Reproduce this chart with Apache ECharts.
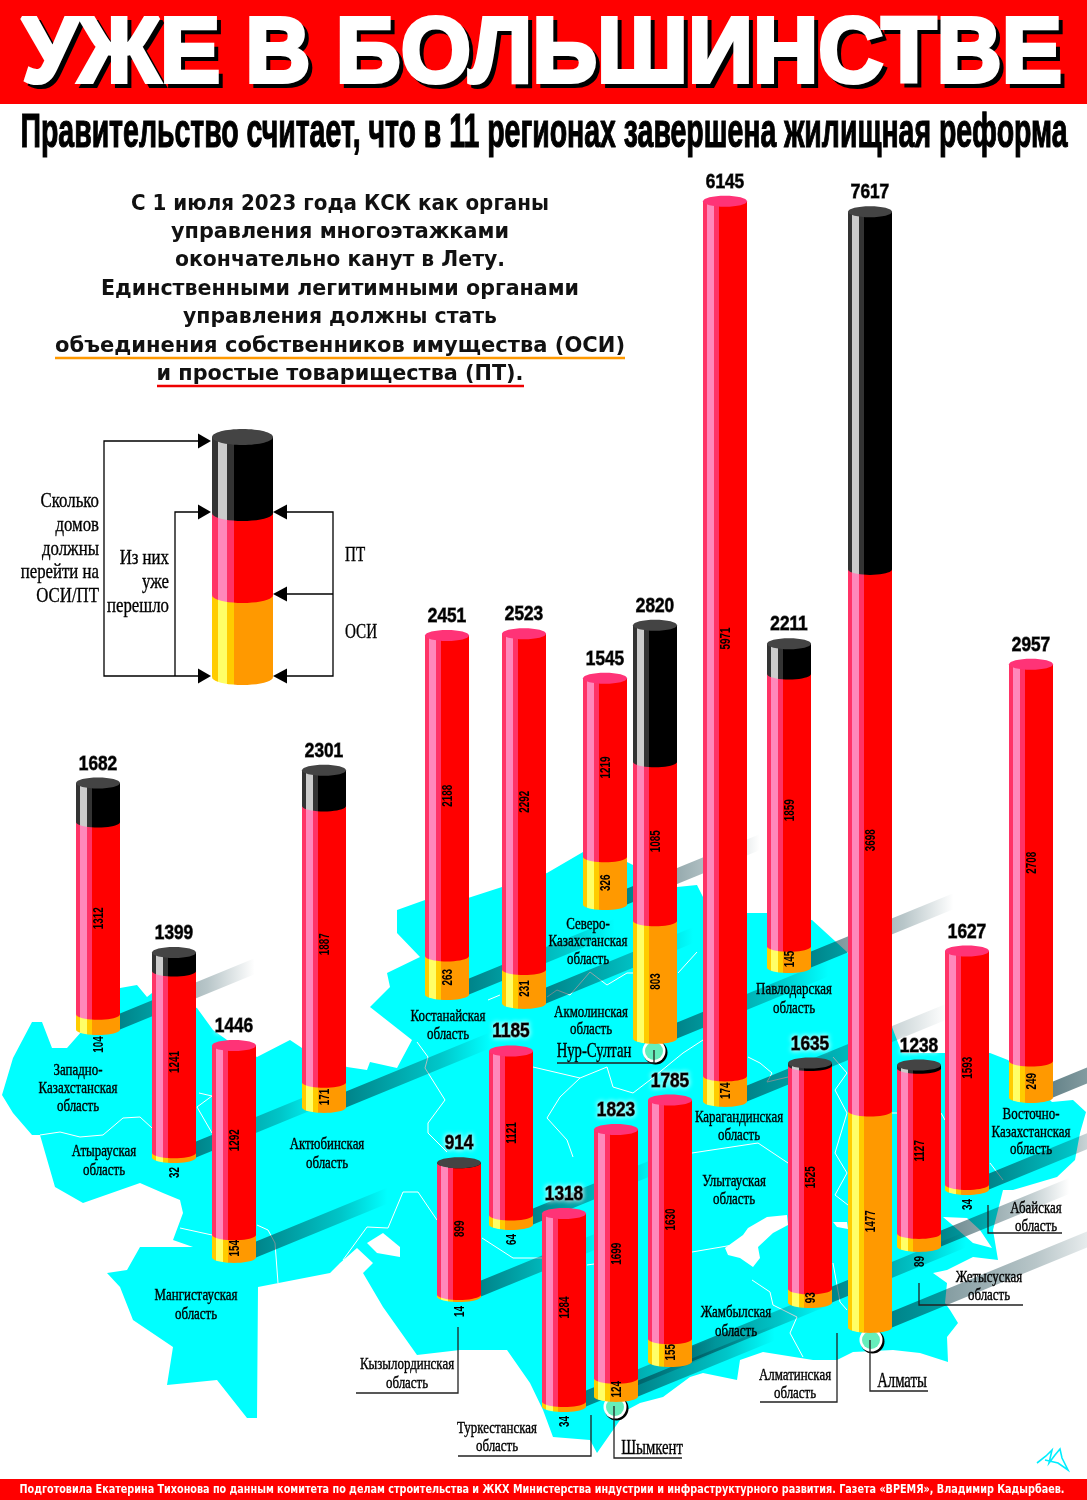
<!DOCTYPE html>
<html><head><meta charset="utf-8">
<style>html,body{margin:0;padding:0;background:#fff}#c{width:1087px;height:1500px}</style>
<script src="https://cdn.jsdelivr.net/npm/echarts@6/dist/echarts.min.js"></script>
</head><body><div id="c"></div>
<script>
// ---------- chart data: houses per region ----------
const totals   = [1682,1399,1446,2301,2451,2523,1545,2820,6145,2211,7617,1627,2957,1185,914,1318,1823,1785,1635,1238];
const ptCounts = [1312,1241,1292,1887,2188,2292,1219,1085,5971,1859,3698,1593,2708,1121,899,1284,1699,1630,1525,1127];
const osiCounts= [104,32,154,171,263,231,326,803,174,145,1477,34,249,64,14,34,124,155,93,89];
// where each region stands on the map: x axis value and floor level (in house units of the y axis)
const mapX     = [98,174,234,324,447,524,605,655,725,789,870,967,1031,511,459,564,616,670,810,919];
const mapFloor = [3212,2338,1656,2680,3451,3390,4065,3151,2721,3635,1178,2120,2748,1881,1389,638,707,945,1348,1731];
const osiLabelUnder = [104,32,14,34,64,89];

const BAR_W = 44, RY = 5.5;
const skins = {
  osi:{base:'#ff9900',mid:'#ffcc00',hi:'#ffff66'},
  pt:{base:'#ff0000',mid:'#ff3366',hi:'#ff88bb'},
  rest:{base:'#000000',mid:'#333333',hi:'#cccccc'}
};
function skin(k){const s=skins[k];return {type:'linear',x:0,y:0,x2:1,y2:0,global:false,colorStops:[
  {offset:0,color:s.mid},{offset:.1,color:s.mid},{offset:.1,color:s.hi},{offset:.24,color:s.hi},
  {offset:.24,color:s.mid},{offset:.36,color:s.mid},{offset:.36,color:s.base},{offset:1,color:s.base}]};}
function segPts(x0,x1,yT,yB,ry){
  const p=[[x0,yT],[x1,yT]],cx=(x0+x1)/2,rx=(x1-x0)/2;
  for(let i=0;i<=20;i++){const a=Math.PI*i/20;p.push([cx+rx*Math.cos(a),yB+ry*Math.sin(a)]);}
  return p;
}
function capEllipse(cx,cy,rx,ry,fill){return {type:'ellipse',shape:{cx,cy,rx,ry},style:{fill}};}

// ---------- decoration: map of Kazakhstan (page pixels) ----------
const mapOutline=[[2,1095],[13,1058],[32,1022],[42,1022],[52,1048],[67,1048],[120,988],[137,985],[147,997],[152,993],[197,1008],[213,1030],[227,1040],[257,1057],[290,1040],[302,1048],[347,1067],[367,1070],[370,1062],[397,1068],[412,1040],[370,1007],[390,987],[387,973],[420,957],[397,933],[397,910],[425,900],[468,898],[502,887],[547,873],[583,852],[627,862],[677,887],[697,885],[703,897],[747,913],[767,913],[812,920],[847,952],[892,1027],[902,1053],[940,1053],[990,1053],[1008,1060],[1052,1102],[1073,1100],[1086,1112],[1080,1133],[1075,1160],[1057,1177],[1013,1190],[1003,1190],[993,1230],[998,1260],[973,1257],[947,1270],[933,1273],[947,1283],[945,1303],[950,1310],[958,1323],[947,1337],[948,1362],[920,1353],[893,1350],[853,1352],[837,1360],[813,1360],[763,1352],[740,1360],[737,1380],[703,1373],[690,1377],[663,1397],[640,1403],[627,1410],[597,1453],[590,1440],[553,1437],[543,1410],[530,1383],[507,1350],[460,1350],[417,1355],[383,1307],[363,1273],[373,1263],[357,1248],[340,1263],[330,1273],[258,1287],[257,1418],[247,1418],[217,1380],[167,1385],[173,1347],[133,1320],[120,1287],[107,1273],[127,1270],[140,1247],[193,1247],[173,1240],[183,1213],[180,1200],[163,1193],[140,1183],[83,1203],[55,1187],[40,1135],[32,1135],[13,1113]];
const mapLakes=[
  [[367,1243],[383,1233],[400,1247],[400,1257],[377,1253]],
  [[725,1248],[743,1235],[748,1228],[767,1217],[787,1215],[788,1225],[773,1233],[758,1247],[760,1258],[753,1267],[740,1258],[728,1255]],
  [[833,1222],[847,1222],[848,1229],[837,1227]],
  [[943,1217],[967,1218],[980,1230],[992,1248],[973,1243],[950,1223]]
];
const regionBorders=[
  [[40,1135],[60,1132],[80,1137],[103,1135],[123,1118],[140,1117],[152,1128]],
  [[199,1093],[212,1096],[197,1107],[212,1133]],
  [[180,1228],[212,1235]],
  [[257,1225],[268,1230],[275,1243],[278,1283]],
  [[343,1260],[367,1227],[388,1228],[403,1192],[418,1192],[437,1220]],
  [[417,1042],[428,1057],[425,1068],[445,1100],[428,1123],[428,1133],[447,1152]],
  [[488,1000],[500,995]],
  [[547,997],[557,990],[570,995],[590,972],[607,985],[627,973],[633,973]],
  [[678,973],[697,952]],
  [[533,1067],[580,1078],[607,1067],[613,1087],[633,1093],[650,1080],[683,1053],[703,1040]],
  [[580,1078],[560,1097],[547,1118],[567,1140],[573,1157]],
  [[482,1238],[513,1258],[542,1258]],
  [[587,1265],[594,1264]],
  [[692,1252],[733,1245]],
  [[752,1280],[770,1292],[773,1305],[797,1317],[790,1333],[803,1357]],
  [[833,1263],[840,1302],[847,1310]],
  [[748,1057],[760,1063],[772,1073],[767,1082],[788,1077]],
  [[692,1153],[758,1143],[788,1163]],
  [[833,1057],[847,1073],[835,1090],[847,1113],[835,1153],[847,1173],[835,1195],[848,1205]],
  [[892,1113],[897,1113]],[[941,1113],[945,1120]],
  [[990,1163],[1003,1180]]
];
const regionLabels=[
  [78,1071,'Западно-'],[78,1089,'Казахстанская'],[78,1107,'область'],
  [104,1152,'Атырауская'],[104,1171,'область'],
  [196,1296,'Мангистауская'],[196,1315,'область'],
  [327,1145,'Актюбинская'],[327,1164,'область'],
  [448,1017,'Костанайская'],[448,1035,'область'],
  [588,925,'Северо-'],[588,942,'Казахстанская'],[588,960,'область'],
  [591,1013,'Акмолинская'],[591,1030,'область'],
  [739,1118,'Карагандинская'],[739,1136,'область'],
  [794,990,'Павлодарская'],[794,1009,'область'],
  [734,1182,'Улытауская'],[734,1200,'область'],
  [736,1313,'Жамбылская'],[736,1332,'область'],
  [1031,1115,'Восточно-'],[1031,1133,'Казахстанская'],[1031,1150,'область'],
  [407,1365,'Кызылординская'],[407,1384,'область'],
  [497,1429,'Туркестанская'],[497,1447,'область'],
  [795,1376,'Алматинская'],[795,1394,'область'],
  [989,1278,'Жетысуская'],[989,1296,'область'],
  [1036,1209,'Абайская'],[1036,1227,'область']
];
const cityLabels=[[594,1051,'Нур-Султан'],[652,1448,'Шымкент'],[902,1381,'Алматы']];
const cityDots=[[654,1051],[615,1407],[871,1340]];
const leaders=[
  [[557,1063],[654,1063],[654,1050]],
  [[614,1406],[614,1458],[682,1458]],
  [[870,1340],[870,1391],[928,1391]],
  [[458,1327],[458,1393],[356,1393]],
  [[591,1415],[591,1456],[458,1456]],
  [[837,1333],[837,1402],[760,1402]],
  [[919,1283],[919,1305],[1023,1305]],
  [[988,1205],[988,1233],[1062,1233]]
];
const introLines=[
  ['С 1 июля 2023 года КСК как органы',205,418],
  ['управления многоэтажками',233,338],
  ['окончательно канут в Лету.',261,330],
  ['Единственными легитимными органами',290,478],
  ['управления должны стать',318,314],
  ['объединения собственников имущества (ОСИ)',347,570],
  ['и простые товарищества (ПТ).',375,367]
];

// ---------- helpers ----------
const mctx=document.createElement('canvas').getContext('2d');
function fit(t,font,w){mctx.font=font;return w/mctx.measureText(t).width;}
function txt(t,x,y,font,o){o=o||{};const al=o.align||'center';
  return {type:'text',x,y,z:o.z||50,silent:true,scaleX:o.sx||1,scaleY:o.sy||1,
    style:Object.assign({text:t,font,fill:o.fill||'#000',align:al,textAlign:al,verticalAlign:'middle',textVerticalAlign:'middle'},o.style||{})};}
function line(pts,color,lw,z){return {type:'polyline',z:z||40,silent:true,shape:{points:pts},style:{fill:null,stroke:color,lineWidth:lw}};}
function tri(p,z){return {type:'polygon',z:z||40,silent:true,shape:{points:p},style:{fill:'#000'}};}

const gfx=[];
// map
gfx.push({type:'polygon',z:-5,silent:true,shape:{points:mapOutline},style:{fill:'#00ffff'}});
mapLakes.forEach(l=>gfx.push({type:'polygon',z:-4,silent:true,shape:{points:l},style:{fill:'#fff'}}));
regionBorders.forEach(b=>gfx.push(line(b,'#ffffff',1,-3)));
// header / footer
gfx.push({type:'rect',z:-5,silent:true,shape:{x:0,y:0,width:1087,height:104},style:{fill:'#ff0000'}});
gfx.push({type:'rect',z:-5,silent:true,shape:{x:0,y:1479,width:1087,height:21},style:{fill:'#ff0000'}});
const tF='bold 92px "Liberation Sans"',tT='УЖЕ В БОЛЬШИНСТВЕ';
gfx.push(txt(tT,546,61,tF,{z:50,sx:fit(tT,tF,1040),fill:'#000',style:{stroke:'#000',lineWidth:4}}));
gfx.push(txt(tT,542,57,tF,{z:51,sx:fit(tT,tF,1040),fill:'#fff',style:{stroke:'#fff',lineWidth:4}}));
const sF='bold 49px "Liberation Sans"',sT='Правительство считает, что в 11 регионах завершена жилищная реформа';
gfx.push(txt(sT,544,133,sF,{sx:fit(sT,sF,1047),style:{stroke:'#000',lineWidth:1.2}}));
const fF='bold 12px "DejaVu Sans"',fT='Подготовила Екатерина Тихонова по данным комитета по делам строительства и ЖКХ Министерства индустрии и инфраструктурного развития. Газета «ВРЕМЯ», Владимир Кадырбаев.';
gfx.push(txt(fT,542,1490,fF,{sx:fit(fT,fF,1045),fill:'#fff'}));
// intro
const iF='bold 21px "DejaVu Sans"';
introLines.forEach(l=>gfx.push(txt(l[0],340,l[1],iF,{sx:fit(l[0],iF,l[2]),fill:'#111'})));
gfx.push(line([[55,358],[625,358]],'#ff9900',2.5));
gfx.push(line([[157,386],[524,386]],'#ee0000',2.5));
// legend
const lg=[];
[['osi',594,677],['pt',513,595],['rest',437,513]].forEach(s=>{
  lg.push({type:'polygon',z:30,silent:true,shape:{points:segPts(212,273,s[1],s[2],8)},style:{fill:skin(s[0])}});
});
lg.push({type:'ellipse',z:31,silent:true,shape:{cx:242.5,cy:437,rx:30.5,ry:8},style:{fill:'#444'}});
gfx.push(...lg);
gfx.push(line([[204,441],[104,441],[104,676],[204,676]],'#000',1.3));
gfx.push(line([[204,512],[175,512],[175,676]],'#000',1.3));
gfx.push(line([[282,512],[333,512],[333,676],[282,676]],'#000',1.3));
gfx.push(line([[282,594],[333,594]],'#000',1.3));
[441,512,676].forEach(y=>gfx.push(tri([[211,y],[198,y-7.5],[198,y+7.5]],41)));
[512,594,676].forEach(y=>gfx.push(tri([[273,y],[287,y-7.5],[287,y+7.5]],41)));
const lF='21px "Liberation Serif"',lS={stroke:'#000',lineWidth:.35};
[['Сколько',501],['домов',525],['должны',549],['перейти на',572],['ОСИ/ПТ',596]].forEach(l=>gfx.push(txt(l[0],99,l[1],lF,{align:'right',sx:.8,style:lS})));
[['Из них',558],['уже',582],['перешло',606]].forEach(l=>gfx.push(txt(l[0],169,l[1],lF,{align:'right',sx:.8,style:lS})));
gfx.push(txt('ПТ',345,555,lF,{align:'left',sx:.72,style:lS}));
gfx.push(txt('ОСИ',345,632,lF,{align:'left',sx:.72,style:lS}));
// labels, leaders
const rF='17px "Liberation Serif"';
regionLabels.forEach(l=>gfx.push(txt(l[2],l[0],l[1],rF,{sx:.76,z:60,style:{stroke:'#000',lineWidth:.4}})));
const cF='21px "Liberation Serif"';
cityLabels.forEach(l=>gfx.push(txt(l[2],l[0],l[1],cF,{sx:.7,z:60,style:{stroke:'#000',lineWidth:.4}})));
leaders.forEach(p=>gfx.push(line(p,'#222',1.3,61)));
cityDots.forEach(d=>{
  gfx.push({type:'circle',z:1,silent:true,shape:{cx:d[0]+1.5,cy:d[1]+1.5,r:12},style:{fill:'#000'}});
  gfx.push({type:'circle',z:1,silent:true,shape:{cx:d[0],cy:d[1],r:11.5},style:{fill:'#fff'}});
  gfx.push({type:'circle',z:1,silent:true,shape:{cx:d[0],cy:d[1],r:9},style:{fill:'#66eebb'}});
});
// signature
gfx.push(line([[1037,1463],[1046,1456],[1052,1450],[1049,1463],[1055,1455],[1060,1449],[1062,1458],[1068,1470],[1058,1463],[1045,1460]],'#00eeff',1.6));

// ---------- series data, far regions first ----------
const rows=totals.map((t,i)=>[mapX[i],mapFloor[i],t,ptCounts[i],osiCounts[i]]).sort((a,b)=>b[1]-a[1]);

function renderShadow(p,api){
  const x=api.value(0),f=api.value(1),t=api.value(2);
  const base=api.coord([x,f]),top=api.coord([x,f+t]),w=api.size([BAR_W,0])[0];
  const L=110+.1*(base[1]-top[1]),X=base[0]+w/2,Y=base[1],T=16,s=.41;
  return {type:'polygon',shape:{points:[[X,Y],[X+L,Y-s*L],[X+L,Y-s*L-T],[X,Y-T]]},
    style:{fill:{type:'linear',x:0,y:0,x2:1,y2:0,global:false,colorStops:[
      {offset:0,color:'rgba(0,50,60,.6)'},{offset:.65,color:'rgba(0,50,60,.28)'},{offset:1,color:'rgba(0,50,60,0)'}]}},silent:true};
}
function renderBar(p,api){
  const x=api.value(0),f=api.value(1),t=api.value(2),pt=api.value(3),osi=api.value(4);
  const w=api.size([BAR_W,0])[0],cx=api.coord([x,0])[0],x0=cx-w/2,x1=cx+w/2;
  const y0=api.coord([x,f])[1],y1=api.coord([x,f+osi])[1],y2=api.coord([x,f+osi+pt])[1],y3=api.coord([x,f+t])[1];
  const ch=[];
  const seg=(a,b,k)=>ch.push({type:'polygon',shape:{points:segPts(x0,x1,a,b,RY)},style:{fill:skin(k)}});
  seg(y1,y0,'osi');seg(y2,y1,'pt');
  if(t>pt+osi) seg(y3,y2,'rest');
  ch.push(capEllipse(cx,y3,w/2,RY,t>pt+osi?'#444444':'#ff3377'));
  const vt=(v,yy)=>({type:'text',x:cx+1,y:yy,rotation:Math.PI/2,scaleX:.66,
    style:{text:String(v),font:'bold 15px "Liberation Sans"',fill:'#000',align:'center',textAlign:'center',verticalAlign:'middle',textVerticalAlign:'middle'}});
  ch.push(vt(pt,(y1+y2)/2));
  ch.push(vt(osi,osiLabelUnder.includes(osi)?y0+15:(y0+y1)/2+2));
  return {type:'group',children:ch};
}
function renderTotal(p,api){
  const x=api.value(0),f=api.value(1),t=api.value(2),c=api.coord([x,f+t]);
  return {type:'text',x:c[0],y:c[1]-19,scaleX:.86,style:{text:String(t),font:'bold 20px "Liberation Sans"',fill:'#000',stroke:'#000',lineWidth:.9,
    align:'center',textAlign:'center',verticalAlign:'middle',textVerticalAlign:'middle',textShadowColor:'#fff',textShadowBlur:5}};
}
const chart=echarts.init(document.getElementById('c'),null,{renderer:'canvas',width:1087,height:1500});
const dims=['x','floor','total','pt','osi'];
chart.setOption({
  animation:false,
  backgroundColor:'#fff',
  grid:{left:0,right:0,top:0,bottom:0,containLabel:false},
  xAxis:{type:'value',min:0,max:1087,show:false},
  yAxis:{type:'value',min:0,max:10240,show:false},
  graphic:{elements:gfx},
  series:[
    {type:'custom',name:'тени',z:0,clip:false,silent:true,dimensions:dims,encode:{x:0,y:1},data:rows,renderItem:renderShadow},
    {type:'custom',name:'дома',z:2,clip:false,silent:true,dimensions:dims,encode:{x:0,y:1},data:rows,renderItem:renderBar},
    {type:'custom',name:'итого',z:3,clip:false,silent:true,dimensions:dims,encode:{x:0,y:1},data:rows,renderItem:renderTotal}
  ]
});
</script></body></html>
